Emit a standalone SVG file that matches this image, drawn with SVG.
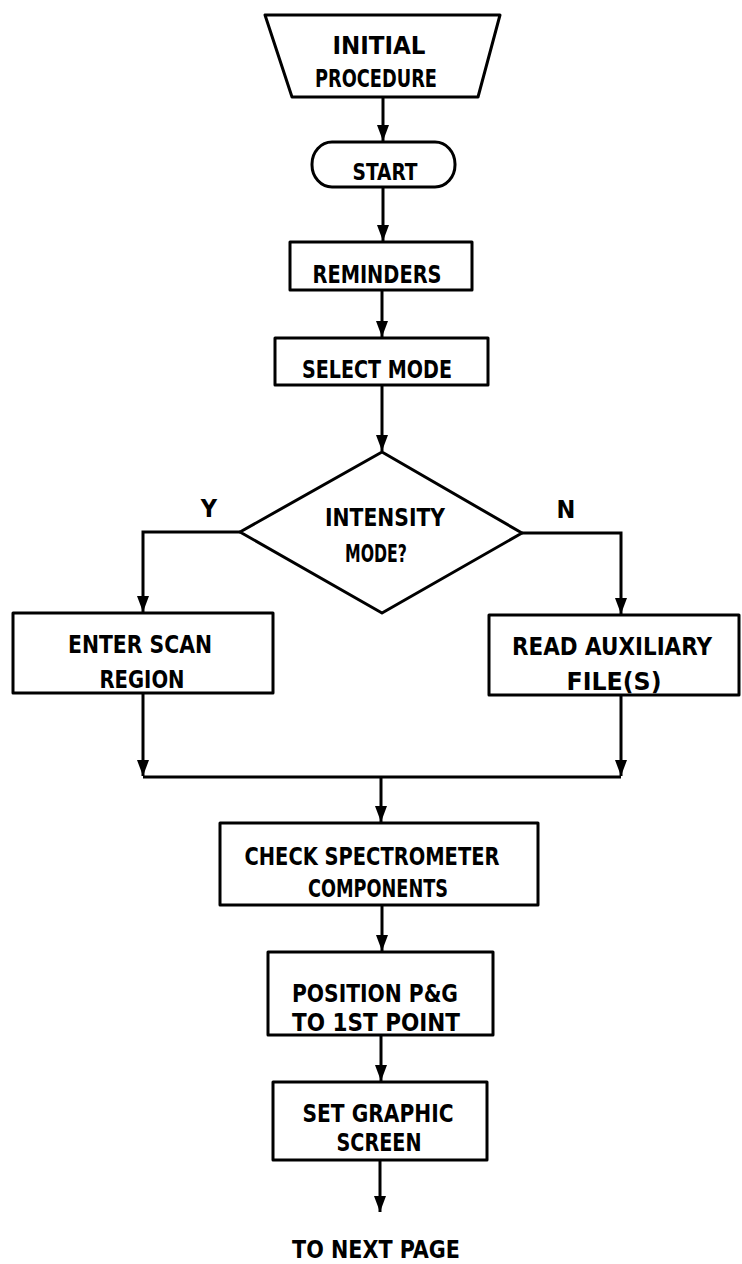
<svg xmlns="http://www.w3.org/2000/svg" width="742" height="1264" viewBox="0 0 742 1264">
<style>
.shape{fill:#fff;stroke:#000;stroke-width:3;stroke-linejoin:round}
.line{fill:none;stroke:#000;stroke-width:3}
.t{font-family:"DejaVu Sans Condensed","DejaVu Sans","Liberation Sans",sans-serif;font-weight:bold;font-size:25px;fill:#000;text-anchor:middle}
</style>
<defs>
<marker id="a" viewBox="0 0 16 12" refX="16" refY="6" markerWidth="16" markerHeight="12" markerUnits="userSpaceOnUse" orient="auto">
<path d="M0,0 L16,6 L0,12 Z" fill="#000"/>
</marker>
</defs>
<g id="connectors">
<path class="line" d="M383,97 V141" marker-end="url(#a)"/>
<path class="line" d="M383,187 V241" marker-end="url(#a)"/>
<path class="line" d="M382,290 V337" marker-end="url(#a)"/>
<path class="line" d="M382,385 V451" marker-end="url(#a)"/>
<path class="line" d="M240,532 H143 V612" marker-end="url(#a)"/>
<path class="line" d="M522,533 H621 V614" marker-end="url(#a)"/>
<path class="line" d="M143,693 V776" marker-end="url(#a)"/>
<path class="line" d="M621,695 V776" marker-end="url(#a)"/>
<path class="line" d="M143,777 H621"/>
<path class="line" d="M381,777 V822" marker-end="url(#a)"/>
<path class="line" d="M382,905 V951" marker-end="url(#a)"/>
<path class="line" d="M381,1035 V1081" marker-end="url(#a)"/>
<path class="line" d="M380,1160 V1212" marker-end="url(#a)"/>
</g>
<g id="initial">
<polygon class="shape" points="265,15 500,15 478,97 292,97"/>
<text class="t" x="379" y="54" textLength="93" lengthAdjust="spacingAndGlyphs">INITIAL</text>
<text class="t" x="376" y="87" textLength="122" lengthAdjust="spacingAndGlyphs">PROCEDURE</text>
</g>
<g id="start">
<rect class="shape" x="312" y="142" width="143" height="45" rx="20" ry="22"/>
<text class="t" x="385" y="180" textLength="65" lengthAdjust="spacingAndGlyphs" style="font-size:23px">START</text>
</g>
<g id="reminders">
<rect class="shape" x="290" y="242" width="182" height="48"/>
<text class="t" x="377" y="283" textLength="129" lengthAdjust="spacingAndGlyphs">REMINDERS</text>
</g>
<g id="select-mode">
<rect class="shape" x="275" y="338" width="213" height="47"/>
<text class="t" x="377" y="378" textLength="150" lengthAdjust="spacingAndGlyphs">SELECT MODE</text>
</g>
<g id="intensity-mode">
<polygon class="shape" points="382,452 522,533 382,613 240,532"/>
<text class="t" x="385" y="526" textLength="120" lengthAdjust="spacingAndGlyphs">INTENSITY</text>
<text class="t" x="376" y="562" textLength="62" lengthAdjust="spacingAndGlyphs">MODE?</text>
</g>
<g id="label-y"><text class="t" x="209" y="517">Y</text></g>
<g id="label-n"><text class="t" x="566" y="518">N</text></g>
<g id="enter-scan-region">
<rect class="shape" x="13" y="613" width="260" height="80"/>
<text class="t" x="140" y="653" textLength="144" lengthAdjust="spacingAndGlyphs">ENTER SCAN</text>
<text class="t" x="142" y="688" textLength="85" lengthAdjust="spacingAndGlyphs">REGION</text>
</g>
<g id="read-auxiliary">
<rect class="shape" x="489" y="615" width="250" height="80"/>
<text class="t" x="612" y="655" textLength="200" lengthAdjust="spacingAndGlyphs">READ AUXILIARY</text>
<text class="t" x="614" y="690" textLength="95" lengthAdjust="spacingAndGlyphs">FILE(S)</text>
</g>
<g id="check-spectrometer">
<rect class="shape" x="220" y="823" width="318" height="82"/>
<text class="t" x="372" y="865" textLength="255" lengthAdjust="spacingAndGlyphs">CHECK SPECTROMETER</text>
<text class="t" x="378" y="897" textLength="140" lengthAdjust="spacingAndGlyphs">COMPONENTS</text>
</g>
<g id="position">
<rect class="shape" x="268" y="952" width="225" height="83"/>
<text class="t" x="375" y="1002" textLength="166" lengthAdjust="spacingAndGlyphs">POSITION P&amp;G</text>
<text class="t" x="376" y="1031" textLength="168" lengthAdjust="spacingAndGlyphs">TO 1ST POINT</text>
</g>
<g id="set-graphic">
<rect class="shape" x="273" y="1082" width="214" height="78"/>
<text class="t" x="378" y="1122" textLength="151" lengthAdjust="spacingAndGlyphs">SET GRAPHIC</text>
<text class="t" x="379" y="1151" textLength="85" lengthAdjust="spacingAndGlyphs">SCREEN</text>
</g>
<g id="next-page">
<text class="t" x="376" y="1258" textLength="168" lengthAdjust="spacingAndGlyphs">TO NEXT PAGE</text>
</g>
</svg>
